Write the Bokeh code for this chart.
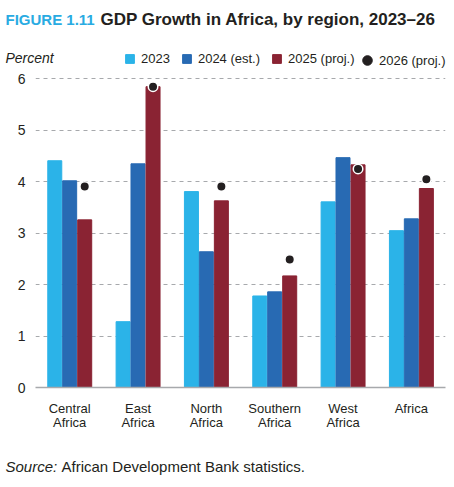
from bokeh.plotting import figure
from bokeh.layouts import column
from bokeh.models import (ColumnDataSource, FactorRange, Range1d, FixedTicker, Legend, LegendItem, Label)
from bokeh.transform import dodge
from bokeh.embed import file_html
from bokeh.resources import INLINE

regions = ["Central\nAfrica", "East\nAfrica", "North\nAfrica", "Southern\nAfrica", "West\nAfrica", "Africa"]
g2023 = [4.41, 1.28, 3.81, 1.78, 3.61, 3.05]
g2024 = [4.02, 4.35, 2.64, 1.86, 4.47, 3.28]
g2025 = [3.26, 5.85, 3.63, 2.17, 4.33, 3.87]
g2026 = [3.91, 5.85, 3.91, 2.49, 4.25, 4.05]
y_ticks = [0, 1, 2, 3, 4, 5, 6]
series_names = ["2023", "2024 (est.)", "2025 (proj.)", "2026 (proj.)"]

C23 = "#2BB3E8"
C24 = "#286AB3"
C25 = "#8A2333"
CDOT = "#231F20"
TXT = "#231F20"
GRID = "#A7A9AC"
FONT = "Liberation Sans"

W = 454
TOP_H, MAIN_H, BOT_H = 70, 375, 42
FRAME_H = 317
PX_PER_UNIT = 51.42

src = ColumnDataSource(dict(region=regions, g2023=g2023, g2024=g2024, g2025=g2025, g2026=g2026))

def no_align(f):
    if "frame_align" in f.properties():
        f.frame_align = False

def blank_fig(h, x_range):
    f = figure(width=W, height=h, x_range=x_range, y_range=Range1d(0, 1),
               x_axis_type=None, y_axis_type=None, output_backend="svg", toolbar_location=None,
               min_border=0, min_border_left=0, min_border_right=0, min_border_top=0, min_border_bottom=0)
    f.outline_line_color = None
    f.grid.visible = False
    no_align(f)
    return f

def lab(f, x, y, text, size, color=TXT, style="normal"):
    f.add_layout(Label(x=x, y=y, x_units="screen", y_units="screen", text=text,
                       text_font=FONT, text_font_size=size, text_color=color,
                       text_font_style=style, text_baseline="middle"))

# ---------------- main chart ----------------
p = figure(width=W, height=MAIN_H, x_range=FactorRange(*regions, range_padding=0),
           y_range=Range1d(0, FRAME_H / PX_PER_UNIT), output_backend="svg", toolbar_location=None,
           min_border_left=35, min_border_right=9, min_border_top=0, min_border_bottom=MAIN_H - FRAME_H)
p.outline_line_color = None
no_align(p)

w = 0.205
p.vbar(x=dodge("region", -0.218, range=p.x_range), top="g2023", width=w, source=src, color=C23)
p.vbar(x=dodge("region", 0.0, range=p.x_range), top="g2024", width=w, source=src, color=C24)
p.vbar(x=dodge("region", 0.22, range=p.x_range), top="g2025", width=w, source=src, color=C25)
p.scatter(x=dodge("region", 0.22, range=p.x_range), y="g2026", source=src, size=9.5,
          fill_color=CDOT, line_color="white", line_width=1.5)

p.yaxis.ticker = FixedTicker(ticks=y_ticks)
p.yaxis.axis_line_color = None
p.yaxis.major_tick_line_color = None
p.yaxis.minor_tick_line_color = None
p.yaxis.major_tick_out = 0
p.yaxis.major_tick_in = 0
p.yaxis.major_label_text_font = FONT
p.yaxis.major_label_text_font_size = "14px"
p.yaxis.major_label_text_color = TXT
p.yaxis.major_label_standoff = 10

p.xaxis.axis_line_color = GRID
p.xaxis.axis_line_width = 1.5
p.xaxis.major_tick_line_color = None
p.xaxis.minor_tick_line_color = None
p.xaxis.major_tick_out = 0
p.xaxis.major_tick_in = 0
p.xaxis.major_label_text_font = FONT
p.xaxis.major_label_text_font_size = "13px"
p.xaxis.major_label_text_color = TXT
p.xaxis.major_label_text_line_height = 0.95
p.xaxis.major_label_standoff = 13

p.xgrid.grid_line_color = None
p.ygrid.ticker = FixedTicker(ticks=y_ticks[1:])
p.ygrid.grid_line_color = GRID
p.ygrid.grid_line_dash = "4 4"
p.ygrid.grid_line_width = 1

# ---------------- header: title, unit, legend ----------------
top = blank_fig(TOP_H, FactorRange(*regions, range_padding=0))
lab(top, 5, TOP_H - 18.5, "FIGURE 1.11", "15px", "#29ABE2", "bold")
lab(top, 100, TOP_H - 18.5, "GDP Growth in Africa, by region, 2023\u201326", "17px", TXT, "bold")
lab(top, 5, TOP_H - 57.5, "Percent", "14px", TXT, "italic")

# hidden copies of the series, used only as legend keys
k1 = top.vbar(x="region", top="g2023", width=w, source=src, color=C23, visible=False)
k2 = top.vbar(x="region", top="g2024", width=w, source=src, color=C24, visible=False)
k3 = top.vbar(x="region", top="g2025", width=w, source=src, color=C25, visible=False)
k4 = top.scatter(x="region", y="g2026", source=src, size=10, color=CDOT, visible=False)

leg_common = dict(orientation="horizontal", padding=0, margin=0, border_line_color=None,
                  background_fill_alpha=0, inactive_fill_alpha=0, label_text_font=FONT,
                  label_text_font_size="13px", label_text_color=TXT)
legend1 = Legend(items=[LegendItem(label=series_names[0], renderers=[k1]),
                        LegendItem(label=series_names[1], renderers=[k2]),
                        LegendItem(label=series_names[2], renderers=[k3])],
                 location=(124, TOP_H - 66), glyph_width=11, glyph_height=11, label_height=11,
                 label_standoff=6, spacing=11, **leg_common)
legend2 = Legend(items=[LegendItem(label=series_names[3], renderers=[k4])],
                 location=(355, TOP_H - 72), glyph_width=24, glyph_height=24, label_height=24,
                 label_standoff=0, spacing=0, **leg_common)
top.add_layout(legend1, "center")
top.add_layout(legend2, "center")

# ---------------- footer: source ----------------
bot = blank_fig(BOT_H, Range1d(0, 1))
lab(bot, 5, BOT_H - 20.5, "Source:", "15px", TXT, "italic")
lab(bot, 61, BOT_H - 20.5, "African Development Bank statistics.", "15px")

layout = column(top, p, bot, spacing=0)
open("out.html", "w").write(file_html(layout, INLINE))
